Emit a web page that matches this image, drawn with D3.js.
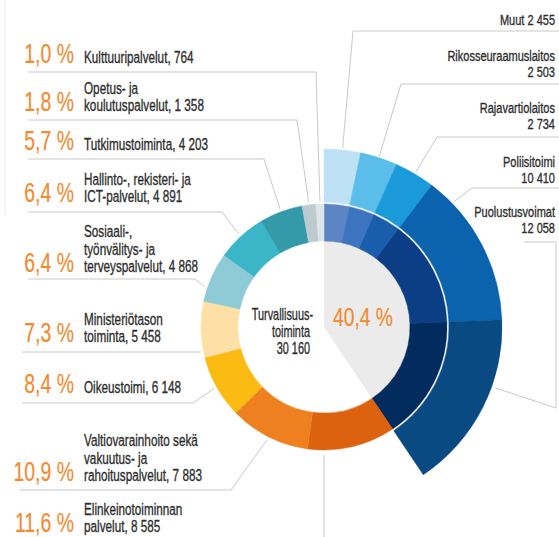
<!DOCTYPE html>
<html>
<head>
<meta charset="utf-8">
<script src="https://cdn.jsdelivr.net/npm/d3@7"></script>
<style>
  body { margin: 0; background: #fff; }
  svg { display: block; }
  text { font-family: "Liberation Sans", Arial, sans-serif; }
</style>
</head>
<body>
<div id="container"></div>
<script>
let w = 559;
let h = 537;

// DATA
// turvallisuustoiminnan erittely (ulkokehä), myötäpäivään ylhäältä
let securityNames = ["Muut", "Rikosseuraamuslaitos", "Rajavartiolaitos", "Poliisitoimi", "Puolustusvoimat"];
let securityValues = [2455, 2503, 2734, 10410, 12058];
let securityTitle = ["Turvallisuus-", "toiminta"];
let securityTotal = 30160;
let securityShare = "40,4 %";

// muut toimialat (sisäkehä), jatkuu myötäpäivään
let sectorNames = [
    "Elinkeinotoiminnan palvelut",
    "Valtiovarainhoito sekä vakuutus- ja rahoituspalvelut",
    "Oikeustoimi",
    "Ministeriötason toiminta",
    "Sosiaali-, työnvälitys- ja terveyspalvelut",
    "Hallinto-, rekisteri- ja ICT-palvelut",
    "Tutkimustoiminta",
    "Opetus- ja koulutuspalvelut",
    "Kulttuuripalvelut"
];
let sectorValues = [8585, 7883, 6148, 5458, 4868, 4891, 4203, 1358, 764];
let sectorShares = ["11,6 %", "10,9 %", "8,4 %", "7,3 %", "6,4 %", "6,4 %", "5,7 %", "1,8 %", "1,0 %"];

// rivitys nimille
let sectorBreaks = [
    ["Elinkeinotoiminnan", "palvelut"],
    ["Valtiovarainhoito sekä", "vakuutus- ja", "rahoituspalvelut"],
    ["Oikeustoimi"],
    ["Ministeriötason", "toiminta"],
    ["Sosiaali-,", "työnvälitys- ja", "terveyspalvelut"],
    ["Hallinto-, rekisteri- ja", "ICT-palvelut"],
    ["Tutkimustoiminta"],
    ["Opetus- ja", "koulutuspalvelut"],
    ["Kulttuuripalvelut"]
];

// COLOURS
let outerColors = ["#bde2f6", "#5bbdea", "#1a9ad8", "#0b63ad", "#0a4a82"];
let innerSecColors = ["#5b85c5", "#3c74bf", "#1a5dad", "#0b3e85", "#022b5e"];
let sectorColors = ["#dc620f", "#ee801f", "#fbbb12", "#fde0a6", "#8ecbd7", "#3bb6c8", "#3499a8", "#bdcacf", "#dee5e8"];
let orange = "#f28a30";
let textColor = "#2e2e2e";
let lineColor = "#c9c9c9";

// LAYOUT (label positions)
let cx = 324, cy = 327;
let rIn0 = 86, rIn1 = 123, rOut0 = 125, rOut1 = 178;
let lineStep = 17.5;
let rightStep = 16.5;
let sq = 0.69;      // horizontal squeeze for body text
let sqPct = 0.72;   // squeeze for percentages
let leftLayout = [
    {base: 532, uy: null},
    {base: 481, uy: 490, x0: 20, corner: 231},
    {base: 393, uy: 403, x0: 22, corner: 193},
    {base: 342, uy: 352, x0: 22, corner: null},
    {base: 272, uy: 279, x0: 28, corner: 195, angle: 288.6},
    {base: 202, uy: 212, x0: 28, corner: 222},
    {base: 150, uy: 159, x0: 28, corner: 264},
    {base: 111, uy: 120, x0: 28, corner: 297},
    {base: 63, uy: 72, x0: 28, corner: 316}
];
let rightLayout = [
    {base: 25, uy: 31, corner: 353, x1: 559},
    {base: 77, uy: 84, corner: 401, x1: 559},
    {base: 129, uy: 137, corner: 437, x1: 559},
    {base: 183, uy: 188, corner: 472, x1: 559, angle: 46},
    {base: 233, uy: 242, corner: 524, x1: 556, drop: 408, angle: 109.6}
];

let fmt = d3.formatLocale({decimal: ",", thousands: " ", grouping: [3], currency: ["", ""]}).format(",");

let viz = d3.select("#container").append("svg")
    .attr("width", w)
    .attr("height", h);

// faint panel edge
viz.append("line")
    .attr("x1", 5).attr("x2", 5).attr("y1", 0).attr("y2", 215)
    .attr("stroke", "#ececec");

let allValues = securityValues.concat(sectorValues);
let slices = d3.pie().sort(null).value(d => d)(allValues);
let secEnd = slices[securityValues.length - 1].endAngle;

function polar(deg, r) {
    let a = deg * Math.PI / 180;
    return [cx + r * Math.sin(a), cy - r * Math.cos(a)];
}
function midDeg(s) {
    return (s.startAngle + s.endAngle) / 2 * 180 / Math.PI;
}

// text with horizontal squeeze, to mimic a condensed face
function condText(parent, x, y, str, size, anchor, fill, sx) {
    return parent.append("text")
        .attr("transform", `translate(${x},${y}) scale(${sx},1)`)
        .attr("text-anchor", anchor)
        .attr("font-size", size)
        .attr("fill", fill)
        .attr("stroke", fill)
        .attr("stroke-width", 0.35)
        .text(str);
}

// LEADER LINES
let lines = viz.append("g")
    .attr("fill", "none")
    .attr("stroke", lineColor)
    .attr("stroke-width", 1);

leftLayout.forEach((L, i) => {
    let s = slices[securityValues.length + i];
    let pts;
    if (L.uy === null) {
        let p = polar(180, 128);
        pts = [p, [p[0], h]];
    } else if (L.corner === null) {
        let dy = L.uy - cy;
        let ex = cx - Math.sqrt(126 * 126 - dy * dy);
        pts = [[L.x0, L.uy], [ex, L.uy]];
    } else {
        let a = L.angle !== undefined ? L.angle : midDeg(s);
        pts = [[L.x0, L.uy], [L.corner, L.uy], polar(a, 126)];
    }
    lines.append("path").attr("d", d3.line()(pts));
});

rightLayout.forEach((L, i) => {
    let s = slices[i];
    let a = L.angle !== undefined ? L.angle : midDeg(s);
    let pts = [[L.x1, L.uy], [L.corner, L.uy], polar(a, 180)];
    if (L.drop) {
        pts = [[L.corner, L.uy], [L.x1, L.uy], [L.x1, L.drop], polar(a, 182)];
    }
    lines.append("path").attr("d", d3.line()(pts));
});

// RINGS
let ring = viz.append("g").attr("transform", `translate(${cx},${cy})`);

ring.append("path")
    .attr("d", d3.arc()({innerRadius: 0, outerRadius: rIn0, startAngle: 0, endAngle: secEnd}))
    .attr("fill", "#ebebeb");

let innerArc = d3.arc().innerRadius(rIn0).outerRadius(rIn1);
let innerColors = innerSecColors.concat(sectorColors);
ring.selectAll(".inner").data(slices).enter()
    .append("path")
    .attr("class", "inner")
    .attr("d", innerArc)
    .attr("fill", (d, i) => innerColors[i])
    .attr("stroke", (d, i) => innerColors[i])
    .attr("stroke-width", 0.5);

let outerArc = d3.arc().innerRadius(rOut0).outerRadius(rOut1);
ring.selectAll(".outer").data(slices.slice(0, securityValues.length)).enter()
    .append("path")
    .attr("class", "outer")
    .attr("d", outerArc)
    .attr("fill", (d, i) => outerColors[i])
    .attr("stroke", (d, i) => outerColors[i])
    .attr("stroke-width", 0.5);

// CENTRE TEXT
let centre = viz.append("g");
condText(centre, 313, 320, securityTitle[0], 16.5, "end", textColor, 0.66);
condText(centre, 310, 337, securityTitle[1], 16.5, "end", textColor, 0.66);
condText(centre, 310, 354, fmt(securityTotal), 16.5, "end", textColor, 0.66);
condText(centre, 333, 326, securityShare, 26, "start", orange, 0.74).attr("stroke-width", 0.2);

// LEFT LABELS
let left = viz.append("g");
leftLayout.forEach((L, i) => {
    let parts = sectorBreaks[i].slice();
    parts[parts.length - 1] += ", " + fmt(sectorValues[i]);
    let n = parts.length;
    parts.forEach((t, k) => {
        condText(left, 84, L.base - (n - 1 - k) * lineStep, t, 17, "start", textColor, sq);
    });
    condText(left, 74, L.base, sectorShares[i], 27, "end", orange, sqPct).attr("stroke-width", 0.2);
});

// RIGHT LABELS
let right = viz.append("g");
rightLayout.forEach((L, i) => {
    if (i === 0) {
        condText(right, 555, L.base, securityNames[i] + " " + fmt(securityValues[i]), 15.5, "end", textColor, 0.71);
    } else {
        condText(right, 555, L.base - rightStep, securityNames[i], 15.5, "end", textColor, 0.71);
        condText(right, 555, L.base, fmt(securityValues[i]), 15.5, "end", textColor, 0.71);
    }
});
</script>
</body>
</html>
